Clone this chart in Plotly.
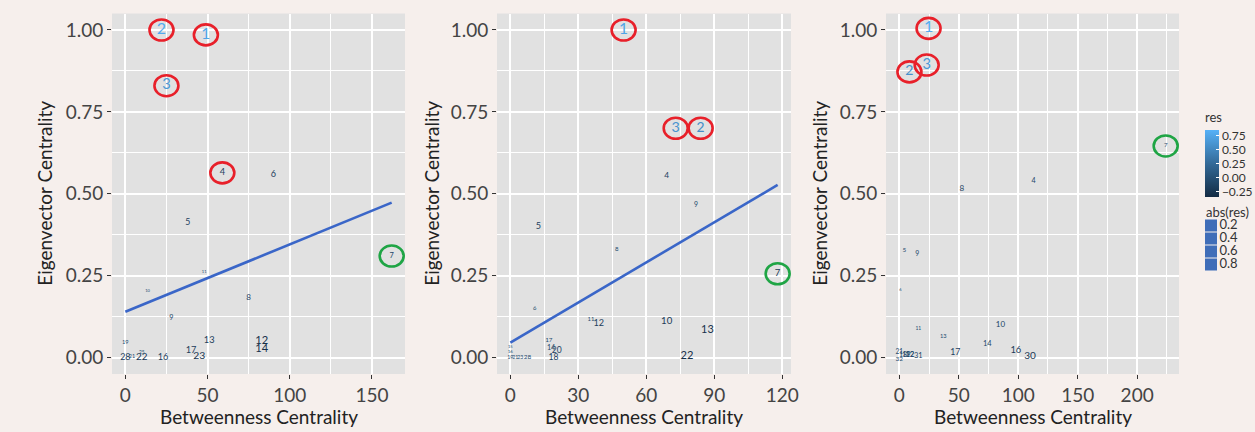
import math
import plotly.graph_objects as go

W, H = 1255, 432

# ---------------- data ----------------
# Panel 1
p1_labels = ["1", "2", "3", "4", "5", "6", "7", "8", "9", "10", "11", "12", "13", "14",
             "16", "17", "19", "21", "22", "23", "25", "28"]
p1_betw = [49, 22, 25, 59, 38, 90, 162, 75, 28, 13.5, 48, 83, 51, 83,
           23, 40, 0, 4, 10, 45, 10, 0]
p1_eig = [0.985, 1.0, 0.83, 0.564, 0.41, 0.558, 0.31, 0.183, 0.119, 0.204, 0.262, 0.049, 0.052, 0.027,
          0.0, 0.021, 0.046, 0.003, 0.0, 0.003, 0.015, 0.0]
p1_res = [0.75, 0.80, 0.64, -0.17, -0.14, -0.16, -0.08, -0.11, -0.07, 0.002, 0.002, -0.30, -0.17, -0.30,
          -0.16, -0.17, -0.025, -0.02, -0.21, -0.24, -0.01, -0.15]
p1_fit_x = [0, 162]
p1_fit_y = [0.14, 0.473]
p1_red = ["1", "2", "3", "4"]
p1_green = ["7"]

# Panel 2
p2_labels = ["1", "2", "3", "4", "5", "6", "7", "8", "9", "10", "11", "12", "13", "14",
             "15", "16", "17", "18", "19", "20", "21", "22", "23", "28"]
p2_betw = [50, 84, 73, 69, 12.4, 10.7, 118, 47, 82, 69, 35.6, 39, 87, 18,
           0, 0, 17, 19, 0, 20.5, 2.2, 78, 4.4, 7.6]
p2_eig = [1.0, 0.70, 0.70, 0.555, 0.40, 0.149, 0.256, 0.33, 0.465, 0.11, 0.116, 0.104, 0.082, 0.03,
          0.034, 0.018, 0.052, 0.0, 0.0, 0.021, 0.0, 0.003, 0.0, 0.0]
p2_res = [0.75, 0.55, 0.60, -0.12, -0.16, -0.03, -0.19, -0.035, -0.06, -0.19, -0.03, -0.16, -0.28, -0.07,
          0.002, -0.005, -0.04, -0.13, -0.015, -0.13, -0.015, -0.30, -0.015, -0.045]
p2_fit_x = [0, 118]
p2_fit_y = [0.046, 0.527]
p2_red = ["1", "2", "3"]
p2_green = ["7"]

# Panel 3
p3_labels = ["1", "2", "3", "4", "5", "6", "7", "8", "9", "10", "11", "12", "13", "14",
             "16", "17", "18", "19", "21", "22", "30", "31", "32"]
p3_betw = [24.6, 8.5, 23, 113, 4.2, 1, 224, 52.5, 15, 85, 16, 9, 37, 74,
           98, 47, 3, 6, 0, 9, 110, 16, 0]
p3_eig = [1.005, 0.872, 0.893, 0.537, 0.326, 0.207, 0.646, 0.515, 0.314, 0.098, 0.088, 0.008, 0.064, 0.04,
          0.021, 0.015, 0.006, 0.008, 0.015, 0.008, 0.003, 0.006, -0.006]
p3_res = [0.80, 0.58, 0.64, -0.07, -0.045, 0.002, -0.035, -0.11, -0.06, -0.10, -0.012, -0.07, -0.025, -0.08,
          -0.18, -0.14, -0.06, -0.07, -0.05, -0.07, -0.22, -0.08, -0.045]
p3_red = ["1", "2", "3"]
p3_green = ["7"]

x_ranges = [[-8.1, 170.1], [-5.9, 123.9], [-11.2, 235.2]]
x_ticks = [[0, 50, 100, 150], [0, 30, 60, 90, 120], [0, 50, 100, 150, 200]]
y_ticks = [0.0, 0.25, 0.5, 0.75, 1.0]
y_ticklabels = ["0.00", "0.25", "0.50", "0.75", "1.00"]
size_legend = [0.2, 0.4, 0.6, 0.8]

# ---------------- styling ----------------
FONT = "Lato"
BG = "#F6EFEC"
PANEL = "#E1E1E1"
STOPS = [(0.0, (0x13, 0x2B, 0x43)), (0.5, (0x33, 0x6A, 0x98)), (1.0, (0x56, 0xB1, 0xF7))]
CSCALE = [[s, "#%02X%02X%02X" % c] for s, c in STOPS]
CMIN, CMAX = -0.34, 0.85
LINE_COL = "#3A66C8"
KEY_COL = "#3F6DB8"
RED = "#E8202A"
GREEN = "#1FA545"

panel_px = [(112, 405), (497, 791), (886, 1179)]
top_px, bot_px = 13.6, 374


def col_of(r):
    t = min(1.0, max(0.0, (r - CMIN) / (CMAX - CMIN)))
    for (s0, c0), (s1, c1) in zip(STOPS[:-1], STOPS[1:]):
        if t <= s1:
            f = (t - s0) / (s1 - s0)
            c = [round(a + (b - a) * f) for a, b in zip(c0, c1)]
            return "#%02X%02X%02X" % tuple(c)
    return CSCALE[-1][1]


def fs_of(r):
    return 3.5 + 12.5 * math.sqrt(abs(r) / 0.8)


fig = go.Figure()

panels = [
    (p1_labels, p1_betw, p1_eig, p1_res, (p1_fit_x, p1_fit_y), p1_red, p1_green),
    (p2_labels, p2_betw, p2_eig, p2_res, (p2_fit_x, p2_fit_y), p2_red, p2_green),
    (p3_labels, p3_betw, p3_eig, p3_res, None, p3_red, p3_green),
]

shapes = []
annotations = []
for i, (labs, bx, ey, rs, fit, reds, greens) in enumerate(panels):
    xa = "x" if i == 0 else f"x{i+1}"
    ya = "y" if i == 0 else f"y{i+1}"
    # panel background
    shapes.append(dict(type="rect", xref=f"{xa} domain", yref=f"{ya} domain",
                       x0=0, x1=1, y0=0, y1=1, fillcolor=PANEL, line=dict(width=0), layer="below"))
    if fit is not None:
        fig.add_trace(go.Scatter(x=fit[0], y=fit[1], mode="lines", xaxis=xa, yaxis=ya,
                                 line=dict(color=LINE_COL, width=2.6), showlegend=False,
                                 hoverinfo="skip"))
    fig.add_trace(go.Scatter(
        x=bx, y=ey, text=labs, mode="text", xaxis=xa, yaxis=ya,
        textposition="middle center",
        textfont=dict(family=FONT, size=[fs_of(r) for r in rs], color=[col_of(r) for r in rs]),
        showlegend=False))
    # invisible marker trace carrying the colour scale
    fig.add_trace(go.Scatter(
        x=bx, y=ey, mode="markers", xaxis=xa, yaxis=ya,
        marker=dict(size=1, color=rs, coloraxis="coloraxis", opacity=0),
        showlegend=False, hoverinfo="skip"))
    for lab, colr in [(l, RED) for l in reds] + [(l, GREEN) for l in greens]:
        k = labs.index(lab)
        shapes.append(dict(type="circle", xref=xa, yref=ya, xsizemode="pixel", ysizemode="pixel",
                           xanchor=bx[k], yanchor=ey[k], x0=-12, x1=12, y0=-10.5, y1=10.5,
                           line=dict(color=colr, width=2.6), layer="above"))
    # axis titles
    cx = (panel_px[i][0] + panel_px[i][1]) / 2 / W
    annotations.append(dict(text="Betweenness Centrality", xref="paper", yref="paper",
                            x=cx, y=1 - 416 / H, showarrow=False, xanchor="center", yanchor="middle",
                            font=dict(family=FONT, size=19, color="#222222")))
    ytx = [45, 432, 820][i]
    annotations.append(dict(text="Eigenvector Centrality", xref="paper", yref="paper",
                            x=ytx / W, y=1 - ((top_px + bot_px) / 2) / H, showarrow=False,
                            textangle=-90, xanchor="center", yanchor="middle",
                            font=dict(family=FONT, size=19, color="#222222")))

# size legend (abs(res)) drawn on a small auxiliary axis pair
fig.add_trace(go.Scatter(
    x=[0] * len(size_legend), y=size_legend, xaxis="x4", yaxis="y4",
    mode="markers+text", text=[f"{v:.1f}" for v in size_legend], textposition="middle right",
    textfont=dict(family=FONT, size=13, color="#333333"),
    marker=dict(symbol="square", size=12, color=KEY_COL, line=dict(width=0)),
    showlegend=False, hoverinfo="skip", cliponaxis=False))
annotations.append(dict(text="abs(res)", xref="paper", yref="paper", x=1204 / W, y=1 - 212 / H,
                        xanchor="left", yanchor="middle", showarrow=False,
                        font=dict(family=FONT, size=13, color="#333333")))

layout = dict(
    width=W, height=H,
    margin=dict(l=0, r=0, t=0, b=0, autoexpand=False),
    paper_bgcolor=BG, plot_bgcolor="rgba(0,0,0,0)",
    font=dict(family=FONT, color="#4D4D4D"),
    shapes=shapes, annotations=annotations, showlegend=False,
    coloraxis=dict(
        colorscale=CSCALE, cmin=CMIN, cmax=CMAX,
        colorbar=dict(
            title=dict(text="res", side="top", font=dict(family=FONT, size=13, color="#333333")),
            x=1205 / W, xanchor="left", y=1 - 153 / H, yanchor="middle",
            thickness=14, thicknessmode="pixels", len=88, lenmode="pixels",
            tickvals=[-0.25, 0, 0.25, 0.5, 0.75],
            ticktext=["\u22120.25", "0.00", "0.25", "0.50", "0.75"],
            ticks="inside", ticklen=3, tickcolor="white", tickwidth=1,
            tickfont=dict(family=FONT, size=12, color="#333333"),
            outlinewidth=0, xpad=0, ypad=0, bgcolor="rgba(0,0,0,0)")),
    xaxis4=dict(domain=[1203 / W, 1.0], range=[-8, 44], visible=False, fixedrange=True,
                anchor="y4"),
    yaxis4=dict(domain=[1 - 271 / H, 1 - 219 / H], range=[0.9, 0.1], visible=False,
                fixedrange=True, anchor="x4"),
)

for i in range(3):
    xk = "xaxis" if i == 0 else f"xaxis{i+1}"
    yk = "yaxis" if i == 0 else f"yaxis{i+1}"
    ya = "y" if i == 0 else f"y{i+1}"
    xa = "x" if i == 0 else f"x{i+1}"
    xt = x_ticks[i]
    layout[xk] = dict(domain=[panel_px[i][0] / W, panel_px[i][1] / W], range=x_ranges[i],
                      anchor=ya, tickvals=xt, ticktext=[str(t) for t in xt],
                      showgrid=True, gridcolor="white", gridwidth=1.8, zeroline=False,
                      ticks="outside", ticklen=4, tickwidth=1.2, tickcolor="#333333",
                      tickfont=dict(family=FONT, size=19, color="#444444"),
                      minor=dict(tickvals=[(xt[k] + xt[k + 1]) / 2 for k in range(len(xt) - 1)]
                                 + [xt[-1] + (xt[1] - xt[0]) / 2],
                                 showgrid=True, gridcolor="white", gridwidth=1.2, ticks=""),
                      showline=False, fixedrange=True, automargin=False)
    layout[yk] = dict(domain=[1 - bot_px / H, 1 - top_px / H], range=[-0.05, 1.05],
                      anchor=xa, tickvals=y_ticks, ticktext=y_ticklabels,
                      showgrid=True, gridcolor="white", gridwidth=1.8, zeroline=False,
                      ticks="outside", ticklen=4, tickwidth=1.2, tickcolor="#333333",
                      tickfont=dict(family=FONT, size=19, color="#444444"),
                      minor=dict(tickvals=[0.125, 0.375, 0.625, 0.875],
                                 showgrid=True, gridcolor="white", gridwidth=1.2, ticks=""),
                      showline=False, fixedrange=True, automargin=False)

fig.update_layout(**layout)
fig.write_html("out.html", config={"displayModeBar": False},
               post_script="document.body.style.margin='0';document.body.style.overflow='hidden';")
